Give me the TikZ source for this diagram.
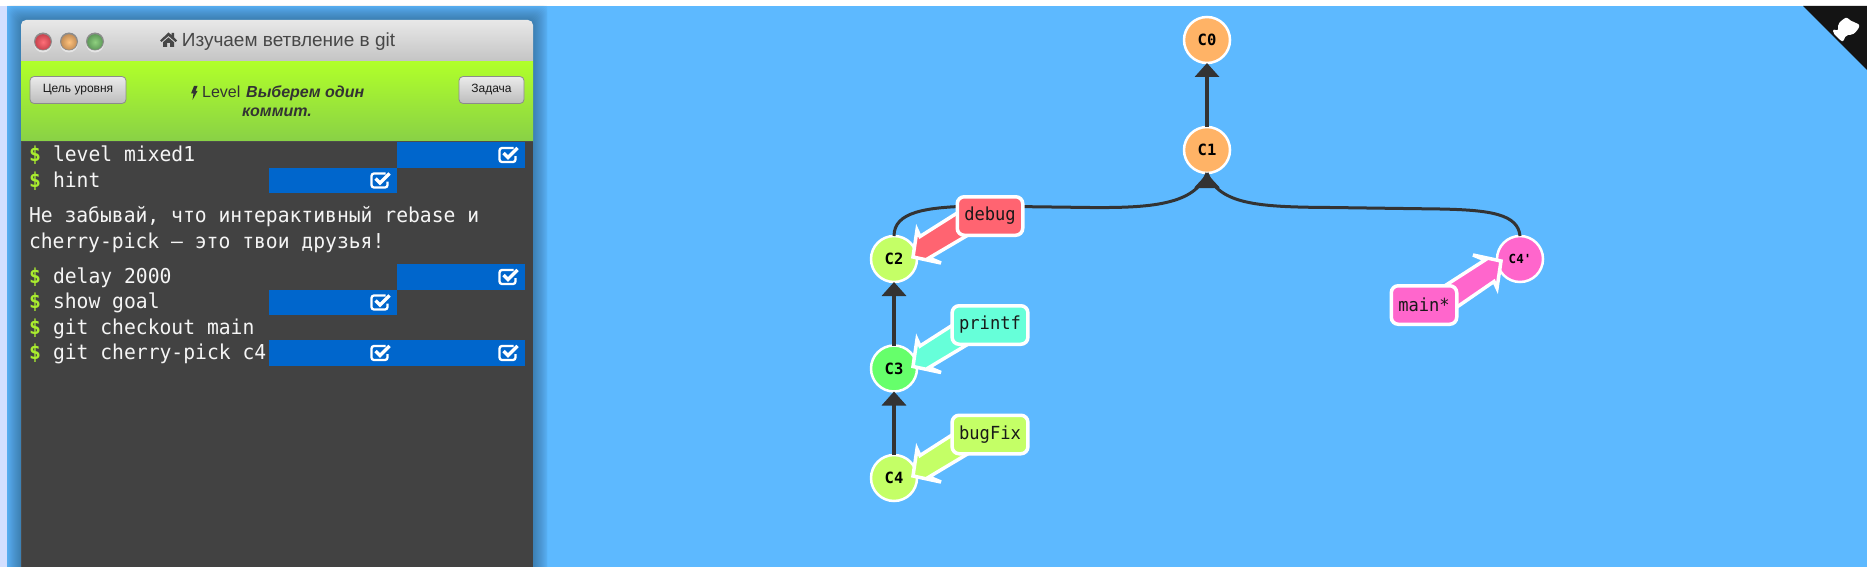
\documentclass[tikz,border=0pt]{standalone}
\usepackage{fontspec}
\setmainfont{Liberation Sans}
\newfontfamily\monof{DejaVu Sans Mono}
\newfontfamily\monotag[FakeStretch=0.95]{DejaVu Sans Mono}
\newfontfamily\monoterm[FakeStretch=0.96]{DejaVu Sans Mono}
\usetikzlibrary{calc,arrows.meta}
\pgfdeclarelayer{tags}
\pgfsetlayers{main,tags}
\definecolor{bgblue}{HTML}{5DB9FF}
\definecolor{term}{HTML}{424242}
\definecolor{rowblue}{HTML}{0066CC}
\definecolor{dollar}{HTML}{A9EC2E}
\definecolor{link}{HTML}{333333}
\definecolor{cOrange}{HTML}{FFB366}
\definecolor{cLime}{HTML}{C4FF66}
\definecolor{cGreen}{HTML}{66FF6B}
\definecolor{cPink}{HTML}{FF66CC}
\definecolor{cRed}{HTML}{FF6471}
\definecolor{cMint}{HTML}{66FFD9}
\definecolor{redIn}{HTML}{FF6F78}
\definecolor{redOut}{HTML}{C9444F}
\definecolor{ambIn}{HTML}{FFC27C}
\definecolor{ambOut}{HTML}{C48F58}
\definecolor{grnIn}{HTML}{8FD07F}
\definecolor{grnOut}{HTML}{5F9A5A}
\tikzset{
  x=1pt,y=-1pt,
  commit/.style={circle,draw=white,line width=2.5pt,minimum size=46pt,inner sep=0pt,outer sep=0pt,text=black,
    font=\monof\bfseries\fontsize{15.5pt}{15.5pt}\selectfont},
  tagbox/.style={rectangle,rounded corners=7pt,draw=white,line width=3.5pt,inner xsep=7pt,inner ysep=0pt,
    minimum height=38.5pt,outer sep=0pt,text=black!90,font=\monotag\fontsize{18pt}{18pt}\selectfont},
  tagarrow/.style={draw=white,line width=3.5pt,line join=miter,miter limit=10},
  link/.style={draw=link,line width=3pt},
  linkhead/.style={fill=link,draw=link,line width=1pt,line join=round},
  parent/.style={link,line width=3.5pt,-{Triangle[length=14pt,width=24pt]}},
  termtext/.style={inner sep=0pt,outer sep=0pt,anchor=base west,text=white!96!black,font=\monoterm\fontsize{20.5pt}{21pt}\selectfont},
  prompt/.style={termtext,text=dollar,font=\monoterm\bfseries\fontsize{20.5pt}{21pt}\selectfont},
  btn/.style={rectangle,rounded corners=4pt,draw=black!45,line width=0.8pt,top color=white!92!black,bottom color=white!74!black,
    minimum height=27pt,inner sep=0pt,outer sep=0pt,text=black!90,font=\fontsize{12pt}{13pt}\selectfont},
  rowbar/.style={fill=rowblue,draw=none},
}
\newcommand{\tagarrow}[4]{% tag, commit, colour, sign
  \draw[tagarrow,fill=#3]
    ($(#2)+(#4*19,#4*-2)$) -- ($(#2)+(#4*23,#4*-29)$) -- ($(#2)+(#4*26,#4*-22.5)$)
    -- ($(#1)+(#4*-17,#4*-13)$) -- ($(#1)+(#4*-5,#4*9)$)
    -- ($(#2)+(#4*35,#4*-1)$) -- ($(#2)+(#4*47,#4*4)$) -- cycle;
}
\newcommand{\checkicon}[2]{% right-hand end of bar, top of bar
  \begin{scope}[shift={(#1-26.5,#2+4)}]
    \draw[white,line width=2.3pt,rounded corners=2.5pt] (15,2) -- (1,2) -- (1,16) -- (17,16) -- (17,10);
    \draw[white,line width=3.2pt] (5,7) -- (9.5,11.5) -- (19,2);
  \end{scope}
}
\newcommand{\lightball}[3]{% x, inner colour, outer colour
  \fill[white!90!black] (#1,43.5) circle[radius=9];
  \fill[black!45] (#1,41.5) circle[radius=9];
  \shade[inner color=#2,outer color=#3] (#1,42) circle[radius=7.8];
}
\begin{document}
\begin{tikzpicture}
\useasboundingbox (0,0) rectangle (1867,567);
\fill[white] (0,0) rectangle (1867,567);
\fill[bgblue] (7,6) rectangle (1867,567);
\fill[white!87!blue!95!cyan] (0,6) rectangle (7,567);

% window shadow
\begin{scope}
  \clip (7,6) rectangle (547,567);
  \foreach \r in {1,...,16}{
    \fill[black,opacity=0.02,rounded corners=6pt] (21-\r,20-\r) rectangle (533+\r,600);
  }
\end{scope}

% window
\shade[top color=white!91!black,bottom color=white!77!black]
  (21,61) [rounded corners=5pt] -- (21,20) -- (533,20) [sharp corners] -- (533,61) -- cycle;
\fill[black!45] (21,61) rectangle (533,62);
\shade[top color={rgb,255:red,176;green,255;blue,42},bottom color={rgb,255:red,137;green,209;blue,70}] (21,62) rectangle (533,141);
\fill[term] (21,141) rectangle (533,567);
\fill[black!70] (20.5,141) rectangle (21.5,567);
\fill[black!70] (21,141) rectangle (533,142);

% traffic lights
\lightball{43}{redIn}{redOut}
\lightball{69}{ambIn}{ambOut}
\lightball{95}{grnIn}{grnOut}

% title
\fill[black!72] (168.5,32.5) -- (160,40.5) -- (161.5,42) -- (168.5,36) -- (175.5,42) -- (177,40.5) -- (174,37.5) -- (174,33) -- (171.5,33) -- (171.5,35) -- cycle;
\fill[black!72] (168.5,37.5) -- (163,42.2) -- (163,47) -- (167,47) -- (167,43) -- (170,43) -- (170,47) -- (174,47) -- (174,42.2) -- cycle;
\node[inner sep=0pt,anchor=base,text=black!72,font=\fontsize{19pt}{20pt}\selectfont] (title) at (288.5,47) {Изучаем ветвление в git};

% header
\node[btn,minimum width=96pt] (goalbtn) at (78,90) {Цель уровня};
\node[btn,minimum width=65pt] (taskbtn) at (491.5,90) {Задача};
\fill[black!80] (194,86) -- (197.5,86) -- (195.5,91) -- (197.5,91) -- (192.5,100) -- (193.5,93.5) -- (191,93.5) -- cycle;
\node[inner sep=0pt,anchor=base west,text=black!80,font=\fontsize{16pt}{17pt}\selectfont] (lvl) at (202,98) {Level};
\node[inner sep=0pt,anchor=base west,text=black!80,font=\bfseries\itshape\fontsize{16pt}{17pt}\selectfont] (lvlA) at (246,98) {Выберем один};
\node[inner sep=0pt,anchor=base,text=black!80,font=\bfseries\itshape\fontsize{16pt}{17pt}\selectfont] (lvlB) at (277,117) {коммит.};

% terminal bars
\fill[rowbar] (397,142) rectangle (525,167.5);
\fill[rowbar] (269,167.5) rectangle (397,193);
\fill[rowbar] (397,264) rectangle (525,289.5);
\fill[rowbar] (269,289.5) rectangle (397,315);
\fill[rowbar] (269,340) rectangle (525,366);
\checkicon{525}{142}
\checkicon{397}{167.5}
\checkicon{525}{264}
\checkicon{397}{289.5}
\checkicon{397}{340}
\checkicon{525}{340}

% terminal text
\node[prompt] (p1) at (29,161.5) {\$};
\node[termtext] (t1) at (53,161.5) {level mixed1};
\node[prompt] (p2) at (29,187) {\$};
\node[termtext] (t2) at (53,187) {hint};
\node[termtext] (h1) at (29,222) {Не забывай, что интерактивный rebase и};
\node[termtext] (h2) at (29,248) {cherry-pick – это твои друзья!};
\node[prompt] (p3) at (29,283.3) {\$};
\node[termtext] (t3) at (53,283.3) {delay 2000};
\node[prompt] (p4) at (29,308.8) {\$};
\node[termtext] (t4) at (53,308.8) {show goal};
\node[prompt] (p5) at (29,334.3) {\$};
\node[termtext] (t5) at (53,334.3) {git checkout main};
\node[prompt] (p6) at (29,359.8) {\$};
\node[termtext] (t6) at (53,359.8) {git cherry-pick c4};

% corner
\fill[black!92] (1803,6) -- (1867,70) -- (1867,6) -- cycle;
\fill[white,rounded corners=2pt] (1833,29) -- (1838,31) -- (1838,24) -- (1842,20) -- (1847,17) -- (1849,20) -- (1854,22) -- (1860,25) -- (1857,31) -- (1852,35) -- (1846,35) -- (1843,42) -- (1840,40) -- (1833,33) -- cycle;

% commits
\node[commit,fill=cOrange] (C0) at (1207,40) {C0};
\node[commit,fill=cOrange] (C1) at (1207,150) {C1};
\node[commit,fill=cLime] (C2) at (894,259) {C2};
\node[commit,fill=cGreen] (C3) at (894,368.5) {C3};
\node[commit,fill=cLime] (C4) at (894,478) {C4};
\node[commit,fill=cPink,font=\monof\bfseries\fontsize{12.5pt}{12.5pt}\selectfont] (C4p) at (1520,259) {C4'};

% links
\draw[parent] (C1.north) -- (C0.south);
\draw[parent] (C3.north) -- (C2.south);
\draw[parent] (C4.north) -- (C3.south);
\draw[link] (C2.north) .. controls (894,212) and (925,207) .. (975,206) -- (1090,207.5) .. controls (1150,208) and (1195,205) .. (C1.south);
\draw[link] (C4p.north) .. controls (1518,214) and (1490,210) .. (1440,209) -- (1330,207.5) .. controls (1260,207) and (1219,205) .. (C1.south);
\draw[linkhead] ($(C1.south)+(0,1.5)$) -- ++(-12,13) -- ++(24,0) -- cycle;

% tags
\begin{pgfonlayer}{tags}
\node[tagbox,fill=cRed] (debug) at (990,216) {debug};
\node[tagbox,fill=cMint] (printf) at (990,325) {printf};
\node[tagbox,fill=cLime] (bugFix) at (990,434.5) {bugFix};
\node[tagbox,fill=cPink] (mainb) at (1424,305) {main*};
\end{pgfonlayer}
\tagarrow{debug}{C2}{cRed}{1}
\tagarrow{printf}{C3}{cMint}{1}
\tagarrow{bugFix}{C4}{cLime}{1}
\tagarrow{mainb}{C4p}{cPink}{-1}
\end{tikzpicture}
\end{document}
